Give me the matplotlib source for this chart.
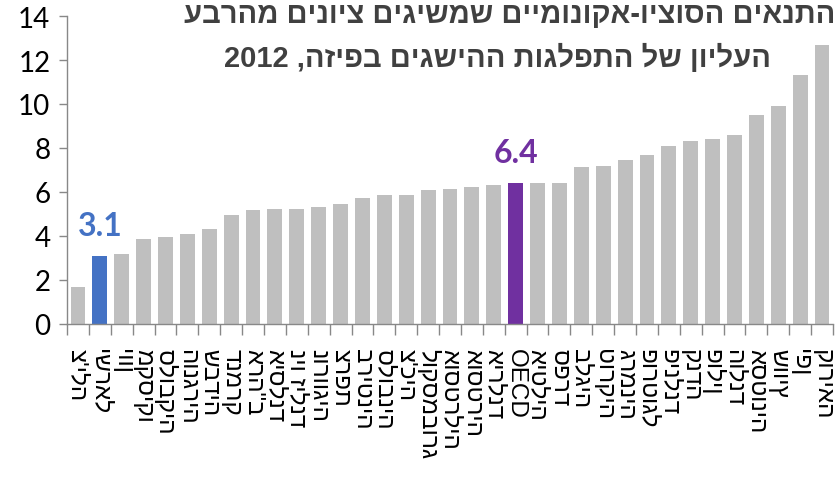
import matplotlib
matplotlib.use("Agg")
import matplotlib.pyplot as plt
import numpy as np

countries = ["צ'ילה", "ישראל", "יוון", "מקסיקו", "סלובקיה", "הונגריה", "שבדיה", "דנמרק",
             'ארה"ב', "איסלנד", "ניו זילנד", "נורווגיה", "צרפת", "בריטניה", "סלובניה", "צ'כיה",
             "לוקסמבורג", "אוסטרליה", "אוסטריה", "אירלנד", "OECD", "איטליה", "ספרד", "בלגיה",
             "טורקיה", "גרמניה", "פורטוגל", "פינלנד", "קנדה", "פולין", "הולנד", "אסטוניה",
             "שוויץ", "יפן", "קוריאה"]
values = [1.7, 3.1, 3.2, 3.85, 3.95, 4.1, 4.3, 4.95,
          5.2, 5.25, 5.25, 5.3, 5.45, 5.75, 5.85, 5.85,
          6.1, 6.15, 6.25, 6.3, 6.4, 6.4, 6.4, 7.15,
          7.2, 7.45, 7.7, 8.1, 8.3, 8.4, 8.6, 9.5,
          9.9, 11.3, 12.7]
highlight = {"ישראל": "#4472C4", "OECD": "#7030A0"}
title_lines = ["התנאים הסוציו-אקונומיים שמשיגים ציונים מהרבע",
               "העליון של התפלגות ההישגים בפיזה, 2012"]
yticks = [0, 2, 4, 6, 8, 10, 12, 14]


def visual(s):
    # reverse Hebrew for display, keep digit runs LTR
    out = []
    token = ""
    for ch in s:
        if ch.isdigit():
            token += ch
        else:
            if token:
                out.append(token)
                token = ""
            out.append(ch)
    if token:
        out.append(token)
    return "".join(reversed(out))


fig = plt.figure(figsize=(8.4, 4.81), dpi=100)
ax = fig.add_axes([67 / 840, 1 - 325 / 481, (833 - 67) / 840, (325 - 17) / 481])

x = np.arange(len(countries))
colors = [highlight.get(c, "#BFBFBF") for c in countries]
ax.bar(x, values, width=0.68, color=colors, zorder=2)

for c, v, xi in zip(countries, values, x):
    if c in highlight:
        ax.annotate(f"{v:.1f}", (xi, v), xytext=(0, 15), textcoords="offset points",
                    ha="center", va="baseline", fontsize=23, fontweight="bold",
                    color=highlight[c], family=["Lato", "DejaVu Sans"])

ax.set_xlim(-0.5, len(countries) - 0.5)
ax.set_ylim(0, 14)
ax.set_yticks(yticks)
ax.set_yticklabels([str(t) for t in yticks], fontsize=20, family=["Lato", "DejaVu Sans"],
                   color="#000000")
ax.set_xticks(x)
ax.set_xticklabels(countries, rotation=-90, fontsize=17.5,
                   family=["Liberation Sans", "DejaVu Sans"], color="#000000",
                   ha="center", va="top")
ax.set_xticks(np.arange(-0.5, len(countries), 1.0), minor=True)
ax.tick_params(axis="x", which="major", length=0, pad=17)
ax.tick_params(axis="x", which="minor", length=8, width=1, color="#888888", direction="out")
ax.tick_params(axis="y", length=6, width=1, color="#888888", direction="out", pad=6)

for s in ["top", "right"]:
    ax.spines[s].set_visible(False)
for s in ["left", "bottom"]:
    ax.spines[s].set_color("#888888")
    ax.spines[s].set_linewidth(1)

fig.text(510 / 840, 1 - 15 / 481, visual(title_lines[0]),
         ha="center", va="center", fontsize=21, fontweight="bold", color="#404040",
         family=["Liberation Sans", "DejaVu Sans"])
fig.text(497 / 840, 1 - 58 / 481, visual(title_lines[1]),
         ha="center", va="center", fontsize=21, fontweight="bold", color="#404040",
         family=["Liberation Sans", "DejaVu Sans"])

fig.savefig("out.png", dpi=100)
